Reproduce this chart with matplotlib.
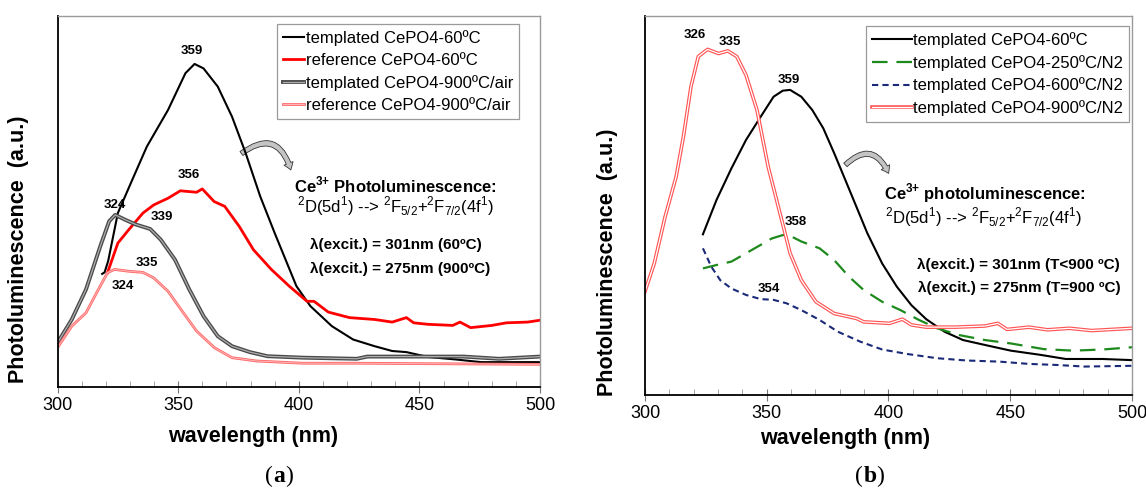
import matplotlib
matplotlib.use("Agg")
import matplotlib.pyplot as plt
import matplotlib.patheffects as pe
from matplotlib.patches import FancyArrowPatch
from matplotlib.ticker import MultipleLocator, NullLocator

plt.rcParams['font.family'] = ['Liberation Sans', 'DejaVu Sans']
plt.rcParams['mathtext.fontset'] = 'custom'
plt.rcParams['mathtext.rm'] = 'Liberation Sans'
plt.rcParams['mathtext.bf'] = 'Liberation Sans:bold'

# ---- panel (a) data (wavelength nm, intensity a.u.) ----
a_tpl60_x = [318.5, 319.5, 321, 325, 331, 337, 345.8, 353, 356.8, 360.5, 366.4, 372.3, 378, 384, 390,
             399, 404.8, 413.7, 422.5, 431.4, 438.7, 444.6, 453.5, 465.3, 475.6, 500]
a_tpl60_y = [30.5, 30.9, 34, 46.9, 55.9, 64.8, 74.7, 84.6, 87.1, 85.9, 81, 72.9, 63, 51.4, 41.5,
             27.2, 21.8, 16.4, 12.8, 11, 9.7, 9.4, 8.1, 7.4, 6.7, 6.7]

a_ref60_x = [320.7, 325, 329.5, 335.4, 339.9, 345.8, 350.9, 357.6, 360, 364.9, 369.3, 375.3, 381.2, 388.6,
             396, 403.4, 406.3, 412.2, 421, 431.4, 438.7, 444.6, 447.6, 453.5, 463.8, 466.8, 471.2,
             480, 486, 494.8, 500]
a_ref60_y = [30.8, 38.8, 42.4, 46.9, 49.1, 50.9, 52.9, 52.5, 53.4, 50, 48.7, 43.3, 37, 31.7,
             27.2, 23.1, 23.1, 20.2, 18.7, 18.2, 17.5, 18.7, 17.3, 16.9, 16.6, 17.5, 16,
             16.6, 17.3, 17.5, 18]

a_tpl900_x = [300, 305.9, 311.8, 317.7, 321.4, 323.9, 328, 332.5, 338.4, 342.8, 348.7, 354.6, 360.5,
              366.4, 372.3, 379.7, 387, 401.8, 424, 428.4, 453.5, 468.3, 483, 500]
a_tpl900_y = [11.9, 18.2, 26.3, 37.9, 44.7, 46.4, 45.1, 43.8, 42.6, 39.7, 34.3, 26.3, 19.1,
              13.7, 11, 9.4, 8.3, 7.9, 7.6, 8.2, 8.2, 8.2, 7.6, 8.2]

a_ref900_x = [300, 305.9, 311.8, 316.2, 320.7, 323.6, 329.5, 335.4, 339.9, 345.8, 351.7, 357.6, 365,
              372.3, 382.6, 401.8, 424, 500]
a_ref900_y = [10.6, 16.4, 20, 25.4, 30.8, 31.7, 31.2, 30.9, 29.4, 25.8, 20.4, 15.1, 10.6,
              7.9, 7, 6.4, 6.4, 6.1]

a_peaks = ["359", "356", "324", "339", "335", "324"]
a_peak_x = [355.8, 354.6, 323.6, 343.4, 336.9, 327.1]
a_peak_y = [90.7, 57.1, 49, 45.8, 33.4, 27.2]

# ---- panel (b) data ----
b_tpl60_x = [323.8, 329.4, 335.5, 341.5, 347.5, 352.8, 356.6, 359.6, 364.2, 368.7, 373.2, 377.7, 382.3,
             386.8, 391.3, 397.4, 403.4, 409.4, 415.5, 423, 430.6, 439.6, 450.2, 462.3, 472.8, 487.9, 500]
b_tpl60_y = [42.4, 51.5, 59.8, 67.3, 73.4, 78.7, 80.3, 80.5, 78.7, 75.2, 70.4, 63.8, 56.7,
             49.7, 42.7, 34.7, 28.6, 23.7, 20, 16.7, 14.5, 13.2, 11.7, 10.6, 9.5, 9.5, 9.2]

b_250_x = [323.8, 329.4, 335.5, 341.5, 347.5, 352.1, 356.6, 359.6, 364.2, 371.7, 377.7, 383.8, 389.8,
           397.4, 404.9, 412.5, 420, 429.1, 439.6, 450.2, 463.8, 475.8, 487.9, 500]
b_250_y = [33.4, 34.3, 35.2, 37.4, 39.6, 41.3, 42.2, 42, 40.5, 38.7, 35.6, 31.2, 27.7,
           24.6, 22.4, 19.8, 17.6, 15.8, 14.5, 13.6, 12.1, 11.7, 12, 12.6]

b_600_x = [323.8, 327.2, 330.9, 335.5, 341.5, 347.5, 352.8, 358.1, 364.2, 371.7, 379.2, 388.3, 397.4,
           407.9, 420, 432.1, 445.7, 457.7, 469.8, 480.4, 500]
b_600_y = [38.7, 33.9, 30.3, 28.1, 26.4, 25.3, 25.1, 24.2, 22.4, 19.8, 16.7, 14.1, 12,
           10.8, 9.7, 9.1, 8.8, 8.2, 7.9, 7.5, 7.7]

b_900_x = [300, 303.8, 308.3, 312.8, 315.8, 318.9, 321.9, 325.7, 330.2, 334, 337.7, 341.5, 346, 350.6,
           355.1, 359.6, 364.2, 370.2, 377.7, 386.8, 389.8, 400.4, 405.7, 409.4, 415.5, 427.5, 439.6,
           444.9, 448.7, 457.7, 465.3, 474.3, 483.4, 500]
b_900_y = [27.3, 34.7, 47.1, 57.6, 68.2, 81.4, 89.3, 91.2, 90.1, 90.8, 89.3, 84.4, 75.2, 60.2,
           48.8, 37.4, 30.3, 24.6, 21.5, 20.2, 19.3, 18.9, 20, 18.5, 17.9, 17.9, 18.2,
           18.9, 17.3, 17.9, 17.2, 17.6, 17, 17.6]

b_peaks = ["326", "335", "359", "358", "354"]
b_peak_x = [320.4, 335, 359.2, 361.9, 351]
b_peak_y = [95, 93.2, 83.1, 45.6, 27.9]

fig = plt.figure(figsize=(11.46, 4.88), dpi=100)
ax1 = fig.add_axes([0.0502, 0.207, 0.4211, 0.760])
ax2 = fig.add_axes([0.5628, 0.1906, 0.4250, 0.7766])


def style_axes(ax):
    ax.set_xlim(300, 500)
    ax.set_ylim(0, 100)
    ax.xaxis.set_major_locator(MultipleLocator(50))
    ax.xaxis.set_minor_locator(MultipleLocator(10))
    ax.yaxis.set_major_locator(NullLocator())
    ax.tick_params(axis='x', which='major', direction='inout', length=8, width=0.8,
                   labelsize=13, pad=3, color='#777777')
    ax.tick_params(axis='x', which='minor', direction='in', length=4, width=0.6, color='#999999')
    for s in ['left', 'bottom']:
        ax.spines[s].set_color('black')
        ax.spines[s].set_linewidth(1.3)
    for s in ['top', 'right']:
        ax.spines[s].set_color('#9a9a9a')
        ax.spines[s].set_linewidth(1.0)
    ax.set_xlabel("wavelength (nm)", fontsize=15.5, fontweight='bold')
    ax.set_ylabel("Photoluminescence  (a.u.)", fontsize=15.5, fontweight='bold')


style_axes(ax1)
style_axes(ax2)

ce_title = r"Ce$^{\mathbf{3{+}}}$ "
transition = r"$^{2}$D(5d$^{1}$) --> $^{2}$F$_{5/2}$+$^{2}$F$_{7/2}$(4f$^{1}$)"

# panel (a) curves
ax1.plot(a_tpl60_x, a_tpl60_y, color='black', lw=1.5, label="templated CePO4-60ºC")
ax1.plot(a_ref60_x, a_ref60_y, color='#ff0000', lw=2.0, label="reference CePO4-60ºC")
ax1.plot(a_tpl900_x, a_tpl900_y, color='#4a4a4a', lw=2.8, label="templated CePO4-900ºC/air",
         path_effects=[pe.Normal(), pe.Stroke(linewidth=0.9, foreground='white', alpha=0.55)])
ax1.plot(a_ref900_x, a_ref900_y, color='#ff6a6a', lw=2.0, label="reference CePO4-900ºC/air",
         path_effects=[pe.Normal(), pe.Stroke(linewidth=0.7, foreground='white', alpha=0.5)])

for t, x, y in zip(a_peaks, a_peak_x, a_peak_y):
    ax1.text(x, y, t, fontsize=9.5, fontweight='bold', ha='center', va='center')

ax1.text(440, 54.4, ce_title + "Photoluminescence:", fontsize=12, fontweight='bold', ha='center', va='center')
ax1.text(440, 48.8, transition, fontsize=12, ha='center', va='center')
ax1.text(404.8, 38.3, "λ(excit.) = 301nm (60ºC)", fontsize=11, fontweight='bold', ha='left', va='center')
ax1.text(404.8, 31.8, "λ(excit.) = 275nm (900ºC)", fontsize=11, fontweight='bold', ha='left', va='center')

ax1.add_patch(FancyArrowPatch((375.3, 62.5), (397, 57.8), connectionstyle="arc3,rad=-0.75",
                              arrowstyle="simple,head_length=5,head_width=7,tail_width=3.5",
                              fc='#c4c4c4', ec='#333333', lw=0.6))

leg1 = ax1.legend(loc='upper right', bbox_to_anchor=(0.9565, 0.978), borderaxespad=0,
                  fontsize=12, handlelength=1.3, handletextpad=0.1, labelspacing=0.42,
                  borderpad=0.35, fancybox=False, edgecolor='#9a9a9a', framealpha=1)
leg1.get_frame().set_linewidth(0.9)

# panel (b) curves
ax2.plot(b_tpl60_x, b_tpl60_y, color='black', lw=1.5, label="templated CePO4-60ºC")
ax2.plot(b_250_x, b_250_y, color='#1e8a1e', lw=1.6, dashes=(7, 4), label="templated CePO4-250ºC/N2")
ax2.plot(b_600_x, b_600_y, color='#1a2a78', lw=1.5, dashes=(3, 2), label="templated CePO4-600ºC/N2")
ax2.plot(b_900_x, b_900_y, color='#ff5555', lw=2.6, label="templated CePO4-900ºC/N2",
         path_effects=[pe.Normal(), pe.Stroke(linewidth=0.9, foreground='white')])

for t, x, y in zip(b_peaks, b_peak_x, b_peak_y):
    ax2.text(x, y, t, fontsize=9.5, fontweight='bold', ha='center', va='center')

ax2.text(439.5, 53.3, ce_title + "photoluminescence:", fontsize=12, fontweight='bold', ha='center', va='center')
ax2.text(439, 47.0, transition, fontsize=12, ha='center', va='center')
ax2.text(411.7, 34.2, "λ(excit.) = 301nm (T<900 ºC)", fontsize=11, fontweight='bold', ha='left', va='center')
ax2.text(412, 28.2, "λ(excit.) = 275nm (T=900 ºC)", fontsize=11, fontweight='bold', ha='left', va='center')

ax2.add_patch(FancyArrowPatch((381.5, 60.2), (400.5, 57.8), connectionstyle="arc3,rad=-0.75",
                              arrowstyle="simple,head_length=5,head_width=7,tail_width=3.5",
                              fc='#c4c4c4', ec='#333333', lw=0.6))

leg2 = ax2.legend(loc='upper right', bbox_to_anchor=(0.994, 0.974), borderaxespad=0,
                  fontsize=12, handlelength=2.4, handletextpad=0.1, labelspacing=0.42,
                  borderpad=0.35, fancybox=False, edgecolor='#9a9a9a', framealpha=1)
leg2.get_frame().set_linewidth(0.9)

# axis label placement
ax1.xaxis.set_label_coords(0.405, -0.105)
ax1.yaxis.set_label_coords(-0.060, 0.372)
ax2.xaxis.set_label_coords(0.411, -0.088)
ax2.yaxis.set_label_coords(-0.055, 0.351)

# subplot tags "(a)" and "(b)"
for xc, tag in [(278, "a"), (868, "b")]:
    t1 = fig.text(xc / 1146 - 0.011, 1 - 476 / 488, "(", fontsize=17, family='Liberation Serif',
                  ha='left', va='center')
    t2 = ax1.annotate(tag, xy=(1, 0), xycoords=t1, fontsize=17, family='Liberation Serif',
                      fontweight='bold', va='bottom', ha='left')
    ax1.annotate(")", xy=(1, 0), xycoords=t2, fontsize=17, family='Liberation Serif',
                 va='bottom', ha='left')

fig.savefig("out.png", dpi=100)
